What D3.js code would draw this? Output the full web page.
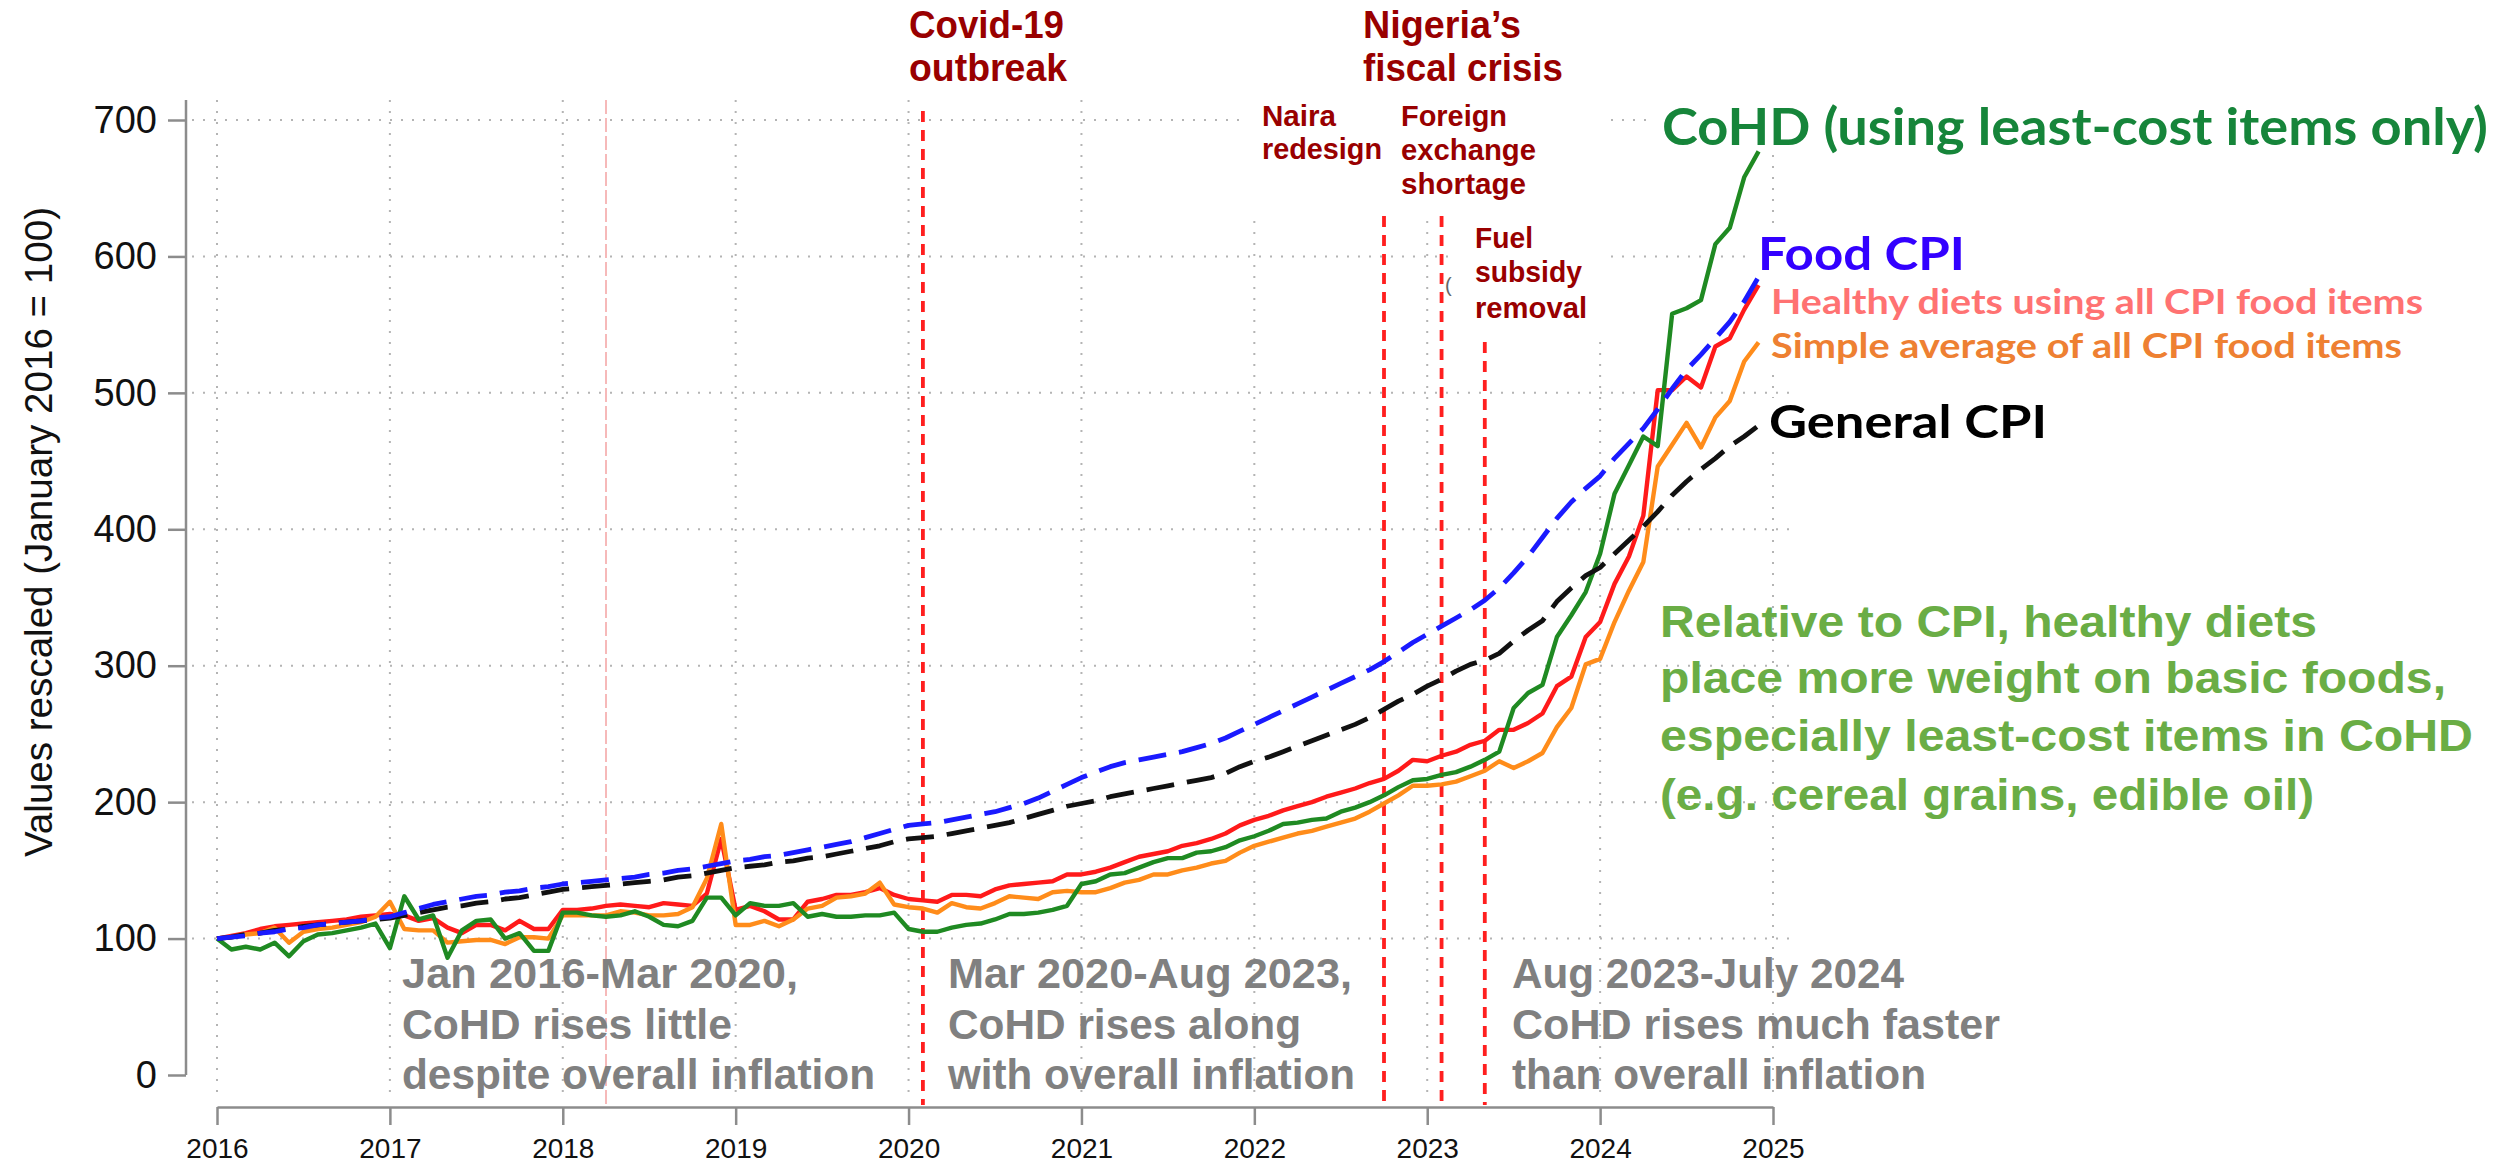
<!DOCTYPE html>
<html>
<head>
<meta charset="utf-8">
<script src="https://cdn.jsdelivr.net/npm/d3@7"></script>
<style>
  html, body { margin: 0; padding: 0; background: #fff; }
  svg { display: block; }
</style>
</head>
<body>
<div id="chart"></div>
<script>
const width = 2499, height = 1163;

// ---- data (monthly, Jan 2016 - Dec 2024, Jan 2016 = 100) ----
const startYear = 2016;
const yearTicks = [2016, 2017, 2018, 2019, 2020, 2021, 2022, 2023, 2024, 2025];
const valueTicks = [0, 100, 200, 300, 400, 500, 600, 700];

const cohdLeastCost = [
  100, 92, 94, 92, 97, 87, 98, 103, 104, 106, 108, 111,
  93, 131, 114, 117, 86, 106, 113, 114, 100, 104, 91, 91,
  119, 119, 117, 116, 117, 120, 116, 110, 109, 113, 130, 130,
  117, 126, 124, 124, 126, 116, 118, 116, 116, 117, 117, 119,
  107, 105, 105, 108, 110, 111, 114, 118, 118, 119, 121, 124,
  140, 142, 147, 148, 152, 156, 159, 159, 163, 164, 167, 172,
  175, 179, 184, 185, 187, 188, 193, 196, 200, 205, 211, 216,
  217, 220, 222, 226, 231, 237, 269, 280, 286, 321, 337, 354,
  382, 426, 447, 468, 461, 558, 562, 568, 609, 621, 658, 677
];
const healthyAllItems = [
  100, 102, 104, 107, 109, 110, 111, 112, 113, 114, 116, 117,
  118, 117, 113, 115, 108, 104, 110, 110, 106, 113, 107, 107,
  121, 121, 122, 124, 125, 124, 123, 126, 125, 124, 133, 173,
  121, 124, 120, 114, 114, 127, 129, 132, 132, 134, 137, 132,
  129, 128, 127, 132, 132, 131, 136, 139, 140, 141, 142, 147,
  147, 149, 152, 156, 160, 162, 164, 168, 170, 173, 177, 183,
  187, 190, 194, 197, 200, 204, 207, 210, 214, 217, 223, 231,
  230, 234, 237, 242, 245, 253, 253, 258, 265, 285, 292, 321,
  332, 360, 380, 410, 502, 502, 512, 504, 534, 540, 561, 579
];
const simpleAverage = [
  100, 101, 103, 104, 108, 97, 105, 107, 108, 110, 112, 116,
  127, 107, 106, 106, 97, 98, 99, 99, 96, 101, 101, 100,
  117, 117, 117, 117, 120, 119, 117, 117, 118, 123, 144, 184,
  110, 110, 113, 109, 114, 122, 124, 130, 131, 133, 141, 125,
  123, 122, 119, 126, 123, 122, 126, 131, 130, 129, 134, 135,
  134, 134, 137, 141, 143, 147, 147, 150, 152, 155, 157, 163,
  168, 171, 174, 177, 179, 182, 185, 188, 193, 199, 205, 212,
  212, 213, 215, 219, 223, 230, 225, 230, 236, 255, 269, 301,
  305, 332, 355, 376, 446, 462, 478, 460, 482, 494, 523, 537
];
const foodCpi = [
  100, 101, 102, 104, 105, 107, 108, 110, 111, 112, 113, 115,
  116, 119, 122, 125, 127, 129, 131, 132, 134, 135, 137, 138,
  140, 141, 142, 143, 144, 145, 147, 148, 150, 151, 153, 155,
  157, 158, 160, 161, 163, 165, 167, 169, 171, 174, 177, 180,
  183, 184, 185, 187, 189, 191, 193, 196, 199, 203, 208, 213,
  218, 222, 226, 229, 231, 233, 235, 237, 240, 243, 247, 252,
  257, 262, 267, 272, 277, 282, 287, 292, 297, 303, 310, 317,
  323, 329, 335, 341, 348, 357, 368, 380, 394, 408, 420, 430,
  439, 452, 463, 474, 488, 503, 517, 528, 540, 552, 567, 585
];
const generalCpi = [
  100, 101, 103, 104, 106, 107, 109, 110, 111, 112, 113, 114,
  115, 117, 119, 121, 123, 124, 126, 127, 129, 130, 132, 134,
  136, 137, 138, 139, 140, 141, 142, 143, 145, 146, 148, 150,
  152, 153, 154, 156, 157, 159, 160, 162, 164, 166, 168, 171,
  173, 174, 175, 177, 179, 181, 183, 185, 188, 191, 194, 197,
  199, 201, 204, 206, 208, 210, 212, 214, 216, 218, 221, 226,
  230, 233, 237, 241, 245, 249, 253, 257, 262, 268, 274, 279,
  285, 290, 296, 301, 304, 309, 318, 326, 333, 347, 357, 366,
  372, 382, 392, 402, 413, 425, 435, 444, 452, 461, 468, 476
];

// event dates (decimal years)
const faintEventDate = 2018.25;
const eventDates = [2020.083, 2022.75, 2023.083, 2023.333];

// ---- layout ----
const axisGray = "#8c8c8c";
const helv = "'Liberation Sans', Arial, Helvetica, sans-serif";
const calib = "Lato, 'Open Sans', sans-serif";

const svg = d3.select("#chart")
  .append("svg")
    .attr("width", width)
    .attr("height", height)
    .style("background", "#fff");

const x = d3.scaleLinear().domain([2016, 2025]).range([217, 1773]);
const y = d3.scaleLinear().domain([0, 700]).range([1075, 120]);

// gridlines
const grid = svg.append("g")
  .attr("stroke", "#b4b4b4")
  .attr("stroke-width", 2)
  .attr("stroke-dasharray", "2,9");

grid.selectAll("line.h")
  .data(valueTicks.filter(v => v > 0))
  .enter().append("line")
    .attr("class", "h")
    .attr("x1", 192).attr("x2", 1798)
    .attr("y1", d => y(d)).attr("y2", d => y(d));

grid.selectAll("line.v")
  .data(yearTicks)
  .enter().append("line")
    .attr("class", "v")
    .attr("x1", d => x(d)).attr("x2", d => x(d))
    .attr("y1", 100).attr("y2", 1100);

// white patches where annotations were pasted on
const patches = [
  [1240, 95, 364, 119],
  [1452, 214, 152, 123],
  [1655, 100, 844, 53],
  [1752, 228, 747, 139],
  [1765, 398, 300, 54]
];
svg.append("g").selectAll("rect")
  .data(patches)
  .enter().append("rect")
    .attr("x", d => d[0]).attr("y", d => d[1])
    .attr("width", d => d[2]).attr("height", d => d[3])
    .attr("fill", "#fff");

// event lines
svg.append("line")
  .attr("x1", x(faintEventDate)).attr("x2", x(faintEventDate))
  .attr("y1", 100).attr("y2", 1105)
  .attr("stroke", "#f3a3a3")
  .attr("stroke-width", 1.5)
  .attr("stroke-dasharray", "14,4");

const eventTops = [111, 216, 216, 342];
svg.append("g").selectAll("line")
  .data(eventDates)
  .enter().append("line")
    .attr("x1", d => x(d)).attr("x2", d => x(d))
    .attr("y1", (d, i) => eventTops[i]).attr("y2", 1105)
    .attr("stroke", "#ff1f1f")
    .attr("stroke-width", 3.8)
    .attr("stroke-dasharray", "11,8");

// series
const line = d3.line()
  .x((d, i) => x(startYear + i / 12))
  .y(d => y(d));

const series = [
  {values: healthyAllItems, color: "#ff1a1a", dash: null},
  {values: simpleAverage, color: "#ff8c1a", dash: null},
  {values: cohdLeastCost, color: "#1f8a22", dash: null},
  {values: generalCpi, color: "#111111", dash: "28,13"},
  {values: foodCpi, color: "#1a1aff", dash: "28,13"}
];

svg.append("g").selectAll("path")
  .data(series)
  .enter().append("path")
    .attr("d", d => line(d.values))
    .attr("fill", "none")
    .attr("stroke", d => d.color)
    .attr("stroke-width", d => d.dash ? 4.8 : 4.4)
    .attr("stroke-linejoin", "round")
    .attr("stroke-dasharray", d => d.dash);

// axes
const yAxis = svg.append("g")
  .attr("transform", "translate(186,0)")
  .call(d3.axisLeft(y).tickValues(valueTicks).tickSize(18).tickSizeOuter(0).tickPadding(11));
yAxis.select(".domain").attr("d", `M0,${y(0)}V100`);

const xAxis = svg.append("g")
  .attr("transform", "translate(0,1107)")
  .call(d3.axisBottom(x).tickValues(yearTicks).tickFormat(d3.format("d"))
    .tickSize(18).tickSizeOuter(0).tickPadding(13));

[yAxis, xAxis].forEach(a => {
  a.selectAll("path, line").attr("stroke", axisGray).attr("stroke-width", 2.5);
  a.selectAll("text").attr("fill", "#111").attr("font-family", helv);
});
yAxis.selectAll("text").attr("font-size", 38);
xAxis.selectAll("text").attr("font-size", 28);

svg.append("text")
  .attr("transform", "translate(52,532) rotate(-90)")
  .attr("text-anchor", "middle")
  .attr("font-family", helv)
  .attr("font-size", 38)
  .attr("fill", "#111")
  .attr("textLength", 650)
  .attr("lengthAdjust", "spacingAndGlyphs")
  .text("Values rescaled (January 2016 = 100)");

// annotations
const darkRed = "#990000";
const grayTxt = "#808080";
const notes = [
  {x: 909, lines: ["Covid-19", "outbreak"], base: [38, 81], w: [155, 158], size: 38, color: darkRed, font: helv},
  {x: 1363, lines: ["Nigeria\u2019s", "fiscal crisis"], base: [38, 81], w: [158, 200], size: 38, color: darkRed, font: helv},
  {x: 1262, lines: ["Naira", "redesign"], base: [126, 159], w: [74, 120], size: 29, color: darkRed, font: helv},
  {x: 1401, lines: ["Foreign", "exchange", "shortage"], base: [126, 160, 194], w: [106, 135, 125], size: 29, color: darkRed, font: helv},
  {x: 1475, lines: ["Fuel", "subsidy", "removal"], base: [248, 282, 318], w: [58, 107, 112], size: 29, color: darkRed, font: helv},
  {x: 402, lines: ["Jan 2016-Mar 2020,", "CoHD rises little", "despite overall inflation"], base: [988, 1039, 1089], w: [396, 330, 473], size: 43, color: grayTxt, font: helv},
  {x: 948, lines: ["Mar 2020-Aug 2023,", "CoHD rises along", "with overall inflation"], base: [988, 1039, 1089], w: [404, 353, 407], size: 43, color: grayTxt, font: helv},
  {x: 1512, lines: ["Aug 2023-July 2024", "CoHD rises much faster", "than overall inflation"], base: [988, 1039, 1089], w: [392, 488, 414], size: 43, color: grayTxt, font: helv},
  {x: 1660, lines: ["Relative to CPI, healthy diets", "place more weight on basic foods,", "especially least-cost items in CoHD", "(e.g. cereal grains, edible oil)"], base: [637, 693, 751, 810], w: [657, 786, 813, 654], size: 45, color: "#6aad45", font: helv},
  {x: 1662, lines: ["CoHD (using least-cost items only)"], base: [145], w: [826], size: 51, color: "#16853a", font: calib},
  {x: 1758, lines: ["Food CPI"], base: [270], w: [207], size: 46, color: "#3300ff", font: calib},
  {x: 1771, lines: ["Healthy diets using all CPI food items"], base: [314], w: [652], size: 35, color: "#ff7272", font: calib},
  {x: 1771, lines: ["Simple average of all CPI food items"], base: [358], w: [631], size: 35, color: "#ee8032", font: calib},
  {x: 1769, lines: ["General CPI"], base: [438], w: [278], size: 45, color: "#000", font: calib}
];

notes.forEach(n => {
  n.lines.forEach((t, i) => {
    svg.append("text")
      .attr("x", n.x)
      .attr("y", n.base[i])
      .attr("font-family", n.font)
      .attr("font-weight", "bold")
      .attr("font-size", n.size)
      .attr("fill", n.color)
      .attr("textLength", n.w[i])
      .attr("lengthAdjust", "spacingAndGlyphs")
      .text(t);
  });
});

// stray fragment left in the original image
svg.append("text")
  .attr("x", 1445).attr("y", 292)
  .attr("font-family", helv)
  .attr("font-size", 20)
  .attr("fill", "#666")
  .text("(");
</script>
</body>
</html>
